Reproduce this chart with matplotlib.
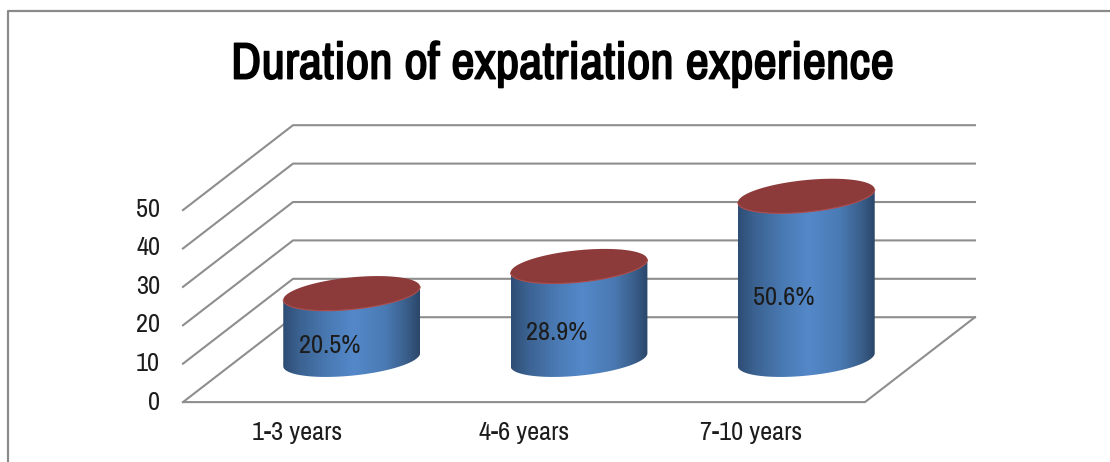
import numpy as np
import matplotlib
matplotlib.use('Agg')
import matplotlib.pyplot as plt
import matplotlib.patheffects as pe
from matplotlib import font_manager as fm
from matplotlib.colors import LinearSegmentedColormap
from matplotlib.lines import Line2D
from matplotlib.patches import Polygon

categories = ['1-3 years', '4-6 years', '7-10 years']
values = [20.5, 28.9, 50.6]
labels = ['20.5%', '28.9%', '50.6%']
y_ticks = [0, 10, 20, 30, 40, 50]

# arial narrow look if a narrow face is there, otherwise plain liberation a bit smaller
installed = {f.name for f in fm.fontManager.ttflist}
if 'Archivo Narrow' in installed:
    plt.rcParams['font.family'] = ['Archivo Narrow', 'Liberation Sans']
    fs_small, fs_title, title_stroke = 19, 37, 1.2
else:
    plt.rcParams['font.family'] = ['Liberation Sans']
    fs_small, fs_title, title_stroke = 15.6, 28.2, 0

# oblique 3d look: depth goes right and up
DX, DY = 0.484, 22.1
BAR_SCALE = 0.842   # cylinders are foreshortened against the back grid
A, B, TILT = 0.301, 4.17, 1.7
GRID = '#8e8e8e'
TEXT = '#1c1c1c'

fig = plt.figure(figsize=(11.1, 4.62), dpi=100)
ax = fig.add_axes([0, 0, 1, 1])
ax.axis('off')

# walls and floor
for v in y_ticks:
    ax.plot([-0.5, -0.5 + DX, 2.5 + DX], [v, v + DY, v + DY], color=GRID, lw=1.5, zorder=1)
ax.plot([-0.5, 2.5, 2.5 + DX], [0, 0, DY], color=GRID, lw=1.5, zorder=1)

body_cmap = LinearSegmentedColormap.from_list('body', [
    (0.0, '#2e4d74'), (0.12, '#3b6291'), (0.35, '#4b7cb6'), (0.52, '#5488c9'),
    (0.75, '#4a7ab3'), (0.9, '#3a5f8c'), (1.0, '#2b4769')])
t = np.linspace(0, 2 * np.pi, 200)

for i, v in enumerate(values):
    cx = i + DX / 2
    base = DY / 2
    top = base + v * BAR_SCALE
    ex = cx + A * np.cos(t)
    # body outline: front half of the base ellipse, then front half of the top one
    front = t <= np.pi
    bx = ex[front]
    by = base - B * np.sin(t[front]) + TILT * np.cos(t[front])
    ty = top - B * np.sin(t[front]) + TILT * np.cos(t[front])
    verts = np.vstack([np.column_stack([bx, by]), np.column_stack([bx[::-1], ty[::-1]])])
    body = Polygon(verts, closed=True, fc='none', ec='none', transform=ax.transData)
    ax.add_patch(body)
    im = ax.imshow(np.linspace(0, 1, 256).reshape(1, -1), cmap=body_cmap, aspect='auto',
                   extent=[cx - A, cx + A, base - B - 3, top + B + 3], zorder=3)
    im.set_clip_path(body)
    # top cap, with a thin lighter rim on its front edge
    cap_y = top + B * np.sin(t) + TILT * np.cos(t)
    ax.fill(ex, cap_y, fc='#8c3a3a', ec='none', zorder=4)
    ax.plot(bx, ty, color='#ab4a4a', lw=0.8, zorder=4)
    ax.text(cx - 0.097, (base + top) / 2 - 5, labels[i], ha='center', va='center',
            fontsize=fs_small, color=TEXT, zorder=5)
    ax.text(i, -8, categories[i], ha='center', va='center', fontsize=fs_small, color=TEXT)

for v in y_ticks:
    ax.text(-0.6, v * 1.005, str(v), ha='right', va='center', fontsize=fs_small, color=TEXT)

# the narrow face has no real bold here, so thicken it with a stroke
ax.text(1.17, 88, 'Duration of expatriation experience', ha='center', va='center',
        fontsize=fs_title, fontweight='bold', color='black',
        path_effects=[pe.withStroke(linewidth=title_stroke, foreground='black')])

ax.set_xlim(-1.305, 3.578)
ax.set_ylim(-15.6, 104.7)

# chart frame, cut off by the crop at the bottom and right
fig.add_artist(Line2D([8 / 1110, 8 / 1110, 1], [0, 451 / 462, 451 / 462], color='#8a8a8a', lw=1.6))

plt.savefig('out.png', dpi=100)
plt.close()
